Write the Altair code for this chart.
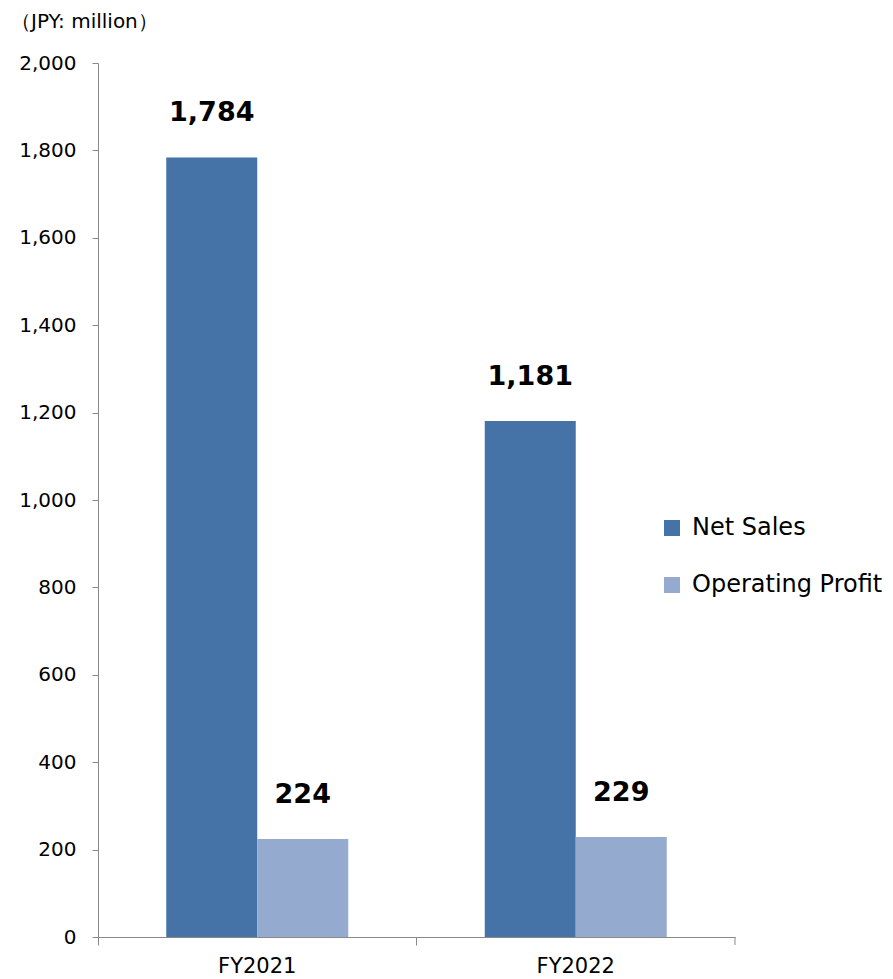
import altair as alt
import pandas as pd

years = ["FY2021", "FY2022"]
net_sales = [1784, 1181]
op_profit = [224, 229]
series = ["Net Sales", "Operating Profit"]
colors = ["#4573A7", "#95AACF"]
y_ticks = [0, 200, 400, 600, 800, 1000, 1200, 1400, 1600, 1800, 2000]

rows = []
for i, y in enumerate(years):
    rows.append({"year": y, "series": series[0], "value": net_sales[i]})
    rows.append({"year": y, "series": series[1], "value": op_profit[i]})
df = pd.DataFrame(rows)

W, H = 637, 874
FONT = "DejaVu Sans"

x_enc = alt.X("year:N", sort=years, title=None,
              scale=alt.Scale(paddingInner=0, paddingOuter=0),
              axis=alt.Axis(bandPosition=0, labelAngle=0, labelFontSize=21,
                            labelFont=FONT, labelColor="#000000", labelPadding=10,
                            tickSize=8, tickColor="#898989", domainColor="#898989",
                            labelBound=False, labelFlush=False))
xo_enc = alt.XOffset("series:N", sort=series,
                     scale=alt.Scale(paddingOuter=0.75, paddingInner=0))
y_enc = alt.Y("value:Q", title=None,
              scale=alt.Scale(domain=[0, 2000], nice=False),
              axis=alt.Axis(values=y_ticks, format=",d", grid=False, labelFontSize=20,
                            labelFont=FONT, labelColor="#000000", labelPadding=16,
                            tickSize=6, tickColor="#898989", domainColor="#898989"))

base = alt.Chart(df)

bars = base.mark_bar().encode(
    x=x_enc, xOffset=xo_enc, y=y_enc,
    color=alt.Color("series:N", sort=series, title=None,
                    scale=alt.Scale(domain=series, range=colors),
                    legend=alt.Legend(orient="none", legendX=562, legendY=453,
                                      symbolType="square", symbolSize=256,
                                      symbolStrokeWidth=0, labelFontSize=24,
                                      labelFont=FONT, labelColor="#000000",
                                      labelLimit=0, rowPadding=33, labelOffset=8)),
)

labels = base.mark_text(fontSize=27, fontWeight="bold", font=FONT,
                        baseline="middle", dy=-44, color="#000000").encode(
    x=x_enc, xOffset=xo_enc, y=y_enc,
    text=alt.Text("value:Q", format=","),
)

end_tick = alt.Chart(pd.DataFrame({"v": [0]})).mark_rule(color="#898989").encode(
    x=alt.value(W), y=alt.value(H), y2=alt.value(H + 8))

chart = alt.layer(bars, labels, end_tick).properties(
    width=W, height=H,
    autosize=alt.AutoSizeParams(type="none"),
    padding={"left": 90, "top": 55, "right": 150, "bottom": 45},
    title=alt.TitleParams("（JPY: million）", anchor="start", frame="group",
                          dx=-87, offset=21, fontSize=20, fontWeight="normal",
                          font=FONT, color="#000000"),
).configure_view(stroke=None)

chart.save("out.html", embed_options={"renderer": "svg", "actions": False})
